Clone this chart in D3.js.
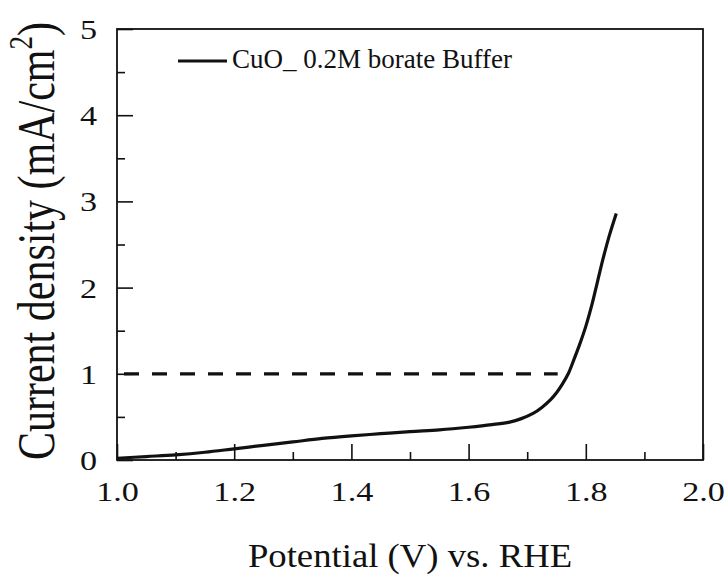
<!DOCTYPE html>
<html>
<head>
<meta charset="utf-8">
<script src="https://cdn.jsdelivr.net/npm/d3@7"></script>
<style>
  html, body { margin: 0; padding: 0; background: #fff; }
  svg { display: block; }
  text { font-family: "Liberation Serif", "Times New Roman", serif; fill: #111; }
</style>
</head>
<body>
<svg id="chart" width="728" height="575"></svg>
<script>
// LSV sweep: potential (V vs. RHE) and current density (mA/cm^2)
const potential = [1.00, 1.05, 1.10, 1.15, 1.20, 1.25, 1.30, 1.35, 1.40, 1.45, 1.50, 1.55,
                   1.60, 1.64, 1.67, 1.69, 1.71, 1.725, 1.74, 1.75, 1.76, 1.77, 1.78, 1.79,
                   1.80, 1.81, 1.82, 1.83, 1.84, 1.852];
const current   = [0.02, 0.04, 0.06, 0.09, 0.13, 0.17, 0.21, 0.25, 0.28, 0.305, 0.33, 0.35,
                   0.38, 0.41, 0.44, 0.48, 0.54, 0.61, 0.70, 0.78, 0.88, 1.00, 1.17, 1.35,
                   1.55, 1.79, 2.07, 2.35, 2.60, 2.86];

// 1 mA/cm^2 reference level, drawn up to where the sweep reaches it
const refLevel = [1.0];
const refSpan  = [1.0, 1.752];

const xMajorTicks = [1.0, 1.2, 1.4, 1.6, 1.8, 2.0];
const xMinorTicks = [1.1, 1.3, 1.5, 1.7, 1.9];
const yMajorTicks = [0, 1, 2, 3, 4, 5];
const yMinorTicks = [0.5, 1.5, 2.5, 3.5, 4.5];

const legendLabel = "CuO_ 0.2M borate Buffer";
const xTitle = "Potential (V) vs. RHE";
const yTitle = "Current density (mA/cm";

const svg = d3.select("#chart");
const plotL = 117, plotR = 703, plotT = 29, plotB = 460;
const serif = '"Liberation Serif", "Times New Roman", serif';
const tickFont = 28, tickStretch = 1.22;

const x = d3.scaleLinear().domain([1.0, 2.0]).range([plotL, plotR]);
const y = d3.scaleLinear().domain([0, 5]).range([plotB, plotT]);

// inward ticks: long for majors, short for minors
function tickAxis(axisFn, scale, values, len, fmt) {
  return axisFn(scale).tickValues(values).tickSizeInner(-len).tickSizeOuter(0)
    .tickFormat(fmt);
}

const gx = svg.append("g").attr("transform", `translate(0,${plotB})`);
gx.call(tickAxis(d3.axisBottom, x, xMajorTicks, 16, d3.format(".1f")).tickPadding(21));
const gxm = svg.append("g").attr("transform", `translate(0,${plotB})`);
gxm.call(tickAxis(d3.axisBottom, x, xMinorTicks, 8, () => ""));

const gy = svg.append("g").attr("transform", `translate(${plotL},0)`);
gy.call(tickAxis(d3.axisLeft, y, yMajorTicks, 16, d3.format("d")).tickPadding(20));
const gym = svg.append("g").attr("transform", `translate(${plotL},0)`);
gym.call(tickAxis(d3.axisLeft, y, yMinorTicks, 8, () => ""));

[gx, gxm, gy, gym].forEach(g => {
  g.select(".domain").remove();
  g.selectAll(".tick line").attr("stroke", "#111").attr("stroke-width", 1.6);
  g.selectAll(".tick text").attr("font-size", tickFont).attr("fill", "#111")
    .style("font-family", serif);
});
// slightly wide numerals
gx.selectAll(".tick text").attr("dy", "0.71em").attr("x", 0)
  .attr("transform", `scale(${tickStretch},1)`);
gy.selectAll(".tick text").attr("dy", "0.34em").attr("x", -20 / tickStretch)
  .attr("transform", `scale(${tickStretch},1)`);

// plot frame
svg.append("rect")
  .attr("x", plotL).attr("y", plotT)
  .attr("width", plotR - plotL).attr("height", plotB - plotT)
  .attr("fill", "none").attr("stroke", "#111").attr("stroke-width", 1.8);

// dashed reference line
svg.append("line")
  .attr("x1", x(refSpan[0])).attr("x2", x(refSpan[1]))
  .attr("y1", y(refLevel[0])).attr("y2", y(refLevel[0]))
  .attr("stroke", "#111").attr("stroke-width", 3.2)
  .attr("stroke-dasharray", "15,13").attr("stroke-dashoffset", -7);

// polarization curve
const pts = potential.map((v, i) => [v, current[i]]);
svg.append("path")
  .datum(pts)
  .attr("fill", "none").attr("stroke", "#111").attr("stroke-width", 3.2)
  .attr("stroke-linejoin", "round").attr("stroke-linecap", "butt")
  .attr("d", d3.line().x(d => x(d[0])).y(d => y(d[1])).curve(d3.curveCatmullRom.alpha(0.5)));

// legend
const leg = svg.append("g");
leg.append("line").attr("x1", 178).attr("x2", 227).attr("y1", 61).attr("y2", 61)
  .attr("stroke", "#111").attr("stroke-width", 3.2);
leg.append("text").attr("x", 232).attr("y", 68).attr("font-size", 27).text(legendLabel);

// axis titles
svg.append("text")
  .attr("transform", `translate(${(plotL + plotR) / 2},567) scale(1.08,1)`)
  .attr("text-anchor", "middle").attr("font-size", 34)
  .text(xTitle);

const yt = svg.append("text")
  .attr("transform", `translate(53.5,241) rotate(-90) scale(1,1.25)`)
  .attr("text-anchor", "middle").attr("font-size", 42);
yt.append("tspan").text(yTitle);
yt.append("tspan").attr("font-size", 27).attr("dy", -17).text("2");
yt.append("tspan").attr("dy", 17).text(")");
</script>
</body>
</html>
